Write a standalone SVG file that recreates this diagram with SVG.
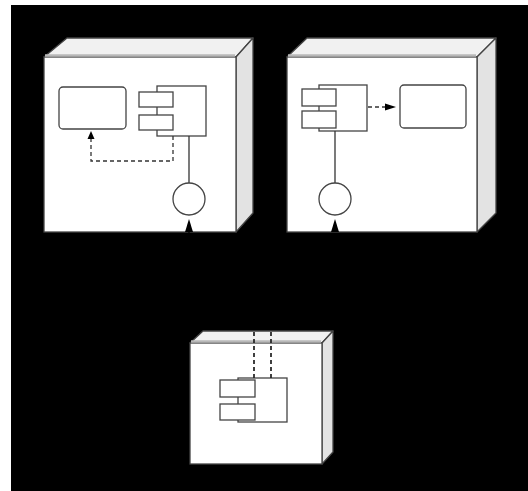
<svg xmlns="http://www.w3.org/2000/svg" width="528" height="491" viewBox="0 0 528 491">
  <style>
    .front { fill: #ffffff; stroke: #444; stroke-width: 1.3; }
    .top { fill: #f1f1f1; stroke: #444; stroke-width: 1.3; stroke-linejoin: round; }
    .side { fill: #e3e3e3; stroke: #444; stroke-width: 1.3; stroke-linejoin: round; }
    .rim { fill: none; stroke: #b8b8b8; stroke-width: 2.5; }
    .box { fill: #ffffff; stroke: #444; stroke-width: 1.3; }
    .line { fill: none; stroke: #333; stroke-width: 1.3; }
    .dash { fill: none; stroke: #333; stroke-width: 1.3; stroke-dasharray: 4 3; }
    .conn { fill: none; stroke: #000; stroke-width: 1.3; stroke-dasharray: 4 3; }
    .head { fill: #000; }
  </style>

  <!-- canvas -->
  <rect x="0" y="0" width="528" height="491" fill="#ffffff"/>
  <rect x="11" y="5" width="517" height="486" fill="#000000"/>

  <!-- node 1 -->
  <g id="node1">
    <polygon class="top" points="44,57 67,38 253,38 236,57"/>
    <polygon class="side" points="236,57 253,38 253,213 236,232"/>
    <rect class="front" x="44" y="57" width="192" height="175"/>
    <line class="rim" x1="45" y1="55.5" x2="235" y2="55.5"/>
    <rect class="box" x="59" y="87" width="67" height="42" rx="4"/>
    <g id="comp1">
      <rect class="box" x="157" y="86" width="49" height="50"/>
      <rect class="box" x="139" y="92" width="34" height="15"/>
      <rect class="box" x="139" y="115" width="34" height="15"/>
    </g>
    <polyline class="dash" points="173,136 173,161 91,161 91,139"/>
    <polygon class="head" points="91,131 87.5,139 94.5,139"/>
    <line class="line" x1="189" y1="136" x2="189" y2="183"/>
    <circle class="box" cx="189" cy="199" r="16"/>
  </g>

  <!-- node 2 -->
  <g id="node2">
    <polygon class="top" points="287,57 307,38 496,38 477,57"/>
    <polygon class="side" points="477,57 496,38 496,213 477,232"/>
    <rect class="front" x="287" y="57" width="190" height="175"/>
    <line class="rim" x1="288" y1="55.5" x2="476" y2="55.5"/>
    <g id="comp2">
      <rect class="box" x="319" y="85" width="48" height="46"/>
      <rect class="box" x="302" y="89" width="34" height="17"/>
      <rect class="box" x="302" y="111" width="34" height="17"/>
    </g>
    <line class="dash" x1="368" y1="107" x2="386" y2="107"/>
    <polygon class="head" points="396,107 385,103.5 385,110.5"/>
    <rect class="box" x="400" y="85" width="66" height="43" rx="4"/>
    <line class="line" x1="335" y1="131" x2="335" y2="183"/>
    <circle class="box" cx="335" cy="199" r="16"/>
  </g>

  <!-- node 3 -->
  <g id="node3">
    <polygon class="top" points="190,343 203,331 333,331 322,343"/>
    <polygon class="side" points="322,343 333,331 333,452 322,464"/>
    <rect class="front" x="190" y="343" width="132" height="121"/>
    <line class="rim" x1="191" y1="341.5" x2="321" y2="341.5"/>
    <g id="comp3">
      <rect class="box" x="238" y="378" width="49" height="44"/>
      <rect class="box" x="220" y="380" width="35" height="17"/>
      <rect class="box" x="220" y="404" width="35" height="16"/>
    </g>
  </g>

  <!-- connectors: dependencies from the lower component to both interfaces -->
  <g id="connectors">
    <polyline class="conn" points="254,378 254,290 189,290 189,226"/>
    <polygon class="head" points="189,219 185,232 193,232"/>
    <polyline class="conn" points="271,378 271,290 335,290 335,226"/>
    <polygon class="head" points="335,219 331,232 339,232"/>
    <line class="dash" x1="254" y1="332" x2="254" y2="378"/>
    <line class="dash" x1="271" y1="332" x2="271" y2="378"/>
  </g>
</svg>
